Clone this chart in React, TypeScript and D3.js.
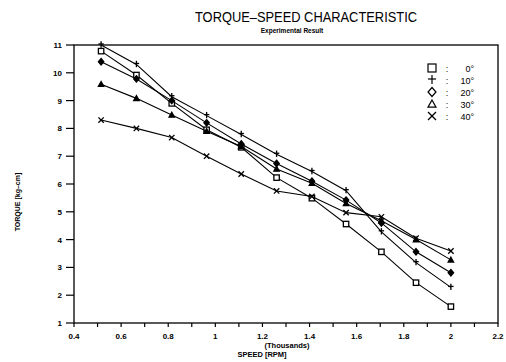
import React from "react";
import * as d3 from "d3";

// speed in thousands of RPM
const speeds = [0.515, 0.665, 0.815, 0.963, 1.11, 1.26, 1.41, 1.555, 1.705, 1.852, 2.0];

const angles = ["0°", "10°", "20°", "30°", "40°"];

// torque [kg-cm] per blade angle
const torque0 = [10.78, 9.92, 8.9, 7.95, 7.32, 6.23, 5.49, 4.56, 3.56, 2.45, 1.59];
const torque10 = [11.0, 10.3, 9.14, 8.46, 7.78, 7.07, 6.45, 5.76, 4.28, 3.17, 2.28];
const torque20 = [10.4, 9.78, 9.0, 8.2, 7.44, 6.74, 6.1, 5.42, 4.6, 3.56, 2.81];
const torque30 = [9.59, 9.08, 8.48, 7.9, 7.35, 6.54, 6.03, 5.3, 4.68, 4.0, 3.27];
const torque40 = [8.3, 8.0, 7.67, 7.0, 6.36, 5.75, 5.55, 4.97, 4.82, 4.05, 3.59];

const xTicks = [0.4, 0.6, 0.8, 1, 1.2, 1.4, 1.6, 1.8, 2, 2.2];
const xMinor = d3.range(0.4, 2.21, 0.1);
const yTicks = [1, 2, 3, 4, 5, 6, 7, 8, 9, 10, 11];

const W = 506;
const H = 362;
const plot = { left: 74, right: 498, top: 45, bottom: 323 };

const series = [
  { name: angles[0], values: torque0, marker: "square" },
  { name: angles[1], values: torque10, marker: "plus" },
  { name: angles[2], values: torque20, marker: "diamond" },
  { name: angles[3], values: torque30, marker: "triangle" },
  { name: angles[4], values: torque40, marker: "cross" },
];

const font = "'Liberation Sans', Arial, sans-serif";

function Marker({ type, x, y, legend }: { type: string; x: number; y: number; legend?: boolean }) {
  const s = legend ? 4 : 2.7;
  const sw = legend ? 1.2 : 1.3;
  if (type === "square")
    return <rect x={x - s} y={y - s} width={s * 2} height={s * 2} fill="#fff" stroke="#000" strokeWidth={sw} />;
  if (type === "plus")
    return (
      <g stroke="#000" strokeWidth={sw}>
        <line x1={x} y1={y - s - 1} x2={x} y2={y + s} />
        <line x1={x - s} y1={y - 1} x2={x + s} y2={y - 1} />
      </g>
    );
  if (type === "diamond")
    return (
      <path
        d={`M${x},${y - s - 0.5}L${x + s},${y}L${x},${y + s + 0.5}L${x - s},${y}Z`}
        fill={legend ? "#fff" : "#000"}
        stroke="#000"
        strokeWidth={sw}
      />
    );
  if (type === "triangle")
    return (
      <path
        d={`M${x},${y - s}L${x + s},${y + s * 0.8}L${x - s},${y + s * 0.8}Z`}
        fill={legend ? "#fff" : "#000"}
        stroke="#000"
        strokeWidth={sw}
      />
    );
  return (
    <g stroke="#000" strokeWidth={sw}>
      <line x1={x - s} y1={y - s} x2={x + s} y2={y + s} />
      <line x1={x - s} y1={y + s} x2={x + s} y2={y - s} />
    </g>
  );
}

export default function App() {
  const x = d3.scaleLinear().domain([0.4, 2.2]).range([plot.left, plot.right]);
  const y = d3.scaleLinear().domain([1, 11]).range([plot.bottom, plot.top]);
  const line = d3
    .line<number>()
    .x((_, i) => x(speeds[i]))
    .y((d) => y(d));

  return (
    <svg
      width={W}
      height={H}
      style={{ position: "absolute", left: 0, top: 0, background: "#fff" }}
      fontFamily={font}
    >
      <text x={306} y={22} textAnchor="middle" fontSize={14} textLength={222} lengthAdjust="spacingAndGlyphs">
        TORQUE–SPEED CHARACTERISTIC
      </text>
      <text x={292} y={33} textAnchor="middle" fontSize={6.5} fontWeight="bold">
        Experimental Result
      </text>

      {/* frame */}
      <rect
        x={plot.left}
        y={plot.top}
        width={plot.right - plot.left}
        height={plot.bottom - plot.top}
        fill="none"
        stroke="#000"
        strokeWidth={1.3}
      />

      {/* y axis */}
      {yTicks.map((t) => (
        <g key={t}>
          <line x1={plot.left - 8} x2={plot.left} y1={y(t)} y2={y(t)} stroke="#000" strokeWidth={1.2} />
          <text x={plot.left - 12} y={y(t) + 3} textAnchor="end" fontSize={8} fontWeight="bold">
            {t}
          </text>
        </g>
      ))}

      {/* x axis */}
      {xMinor.map((t, i) => (
        <line key={i} x1={x(t)} x2={x(t)} y1={plot.bottom} y2={plot.bottom + 4} stroke="#000" strokeWidth={1.2} />
      ))}
      {xTicks.map((t) => (
        <text key={t} x={x(t)} y={339} textAnchor="middle" fontSize={8} fontWeight="bold">
          {d3.format("~g")(t)}
        </text>
      ))}

      <text x={287} y={348} textAnchor="middle" fontSize={7.5} fontWeight="bold">
        (Thousands)
      </text>
      <text x={262} y={357} textAnchor="middle" fontSize={7.5} fontWeight="bold">
        SPEED  [RPM]
      </text>
      <text
        transform={`translate(20,202) rotate(-90)`}
        textAnchor="middle"
        fontSize={7}
        fontWeight="bold"
      >
        TORQUE   [kg–cm]
      </text>

      {/* series */}
      {series.map((s) => (
        <g key={s.name}>
          <path d={line(s.values) || ""} fill="none" stroke="#000" strokeWidth={1.1} />
          {s.values.map((v, i) => (
            <Marker key={i} type={s.marker} x={x(speeds[i])} y={y(v)} />
          ))}
        </g>
      ))}

      {/* legend */}
      {series.map((s, i) => {
        const ly = 68 + i * 12;
        return (
          <g key={s.name}>
            <Marker type={s.marker} x={432} y={ly} legend />
            <text x={447} y={ly + 3.5} fontSize={9} textAnchor="middle">
              :
            </text>
            <text x={474} y={ly + 3.5} fontSize={9} textAnchor="end">
              {s.name}
            </text>
          </g>
        );
      })}
    </svg>
  );
}
